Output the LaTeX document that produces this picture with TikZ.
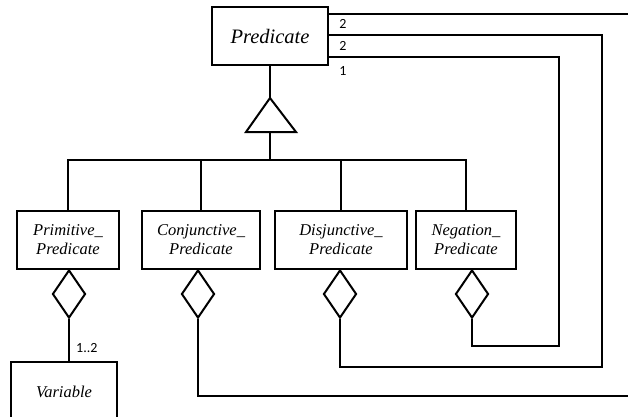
\documentclass[tikz,border=0pt]{standalone}
\usepackage{fontspec}
\setmainfont{Liberation Serif}
\newfontfamily\lblfont{Carlito}
\usetikzlibrary{shapes.geometric,calc}

\tikzset{
  umlline/.style={line width=2pt, line join=miter},
  classbox/.style={draw, umlline, rectangle, inner sep=0pt, align=center,
    font=\itshape\fontsize{16.5}{19}\selectfont},
  aggr/.style={draw, umlline, diamond, inner sep=0pt, fill=white,
    minimum width=33pt, minimum height=48pt},
  mult/.style={font=\lblfont\fontsize{14}{16}\selectfont, inner sep=0pt}
}

\begin{document}
\begin{tikzpicture}[x=1pt, y=-1pt]
  \clip (0,0) rectangle (628,416);
  \fill[white] (0,0) rectangle (628,416);

  % classes
  \node[classbox, minimum width=116pt, minimum height=58pt,
        font=\itshape\fontsize{20.5}{24}\selectfont] (pred) at (270,36) {Predicate};
  \node[classbox, minimum width=102pt, minimum height=58pt] (prim) at (68,240) {Primitive\_\\Predicate};
  \node[classbox, minimum width=118pt, minimum height=58pt] (conj) at (201,240) {Conjunctive\_\\Predicate};
  \node[classbox, minimum width=132pt, minimum height=58pt] (disj) at (341,240) {Disjunctive\_\\Predicate};
  \node[classbox, minimum width=100pt, minimum height=58pt] (neg) at (466,240) {Negation\_\\Predicate};
  \node[classbox, minimum width=106pt, minimum height=60pt, anchor=north] (var) at (64,361) {Variable};

  % generalisation triangle and the bar joining the subclasses
  \coordinate (triTop) at (270,98);
  \coordinate (triL) at (246,132);
  \coordinate (triR) at (296,132);
  \coordinate (triBase) at (270,132);
  \coordinate (bar) at (270,160);
  \draw[umlline] (pred.south) -- (triTop);
  \draw[umlline] (triTop) -- (triR) -- (triL) -- cycle;
  \draw[umlline] (triBase) -- (bar);
  \draw[umlline] (prim.north) -- (prim.north |- bar) -- (neg.north |- bar) -- (neg.north);
  \draw[umlline] (conj.north) -- (conj.north |- bar);
  \draw[umlline] (disj.north) -- (disj.north |- bar);

  % aggregation diamonds
  \node[aggr, anchor=north] (dPrim) at (69,269) {};
  \node[aggr, anchor=north] (dConj) at (198,269) {};
  \node[aggr, anchor=north] (dDisj) at (340,269) {};
  \node[aggr, anchor=north] (dNeg) at (472,269) {};

  % Primitive_Predicate -> Variable
  \draw[umlline] (dPrim.south) -- (dPrim.south |- var.north);
  \node[mult, anchor=west] (mVar) at (76,348) {1..2};

  % ends on the Predicate side
  \coordinate (pA) at (328,14);
  \coordinate (pB) at (328,35);
  \coordinate (pC) at (328,57);
  \coordinate (farTop) at (640,14);
  \coordinate (farBottom) at (640,396);

  % Conjunctive_Predicate -> Predicate (leaves at the right edge)
  \draw[umlline] (pA) -- (farTop);
  \draw[umlline] (dConj.south) |- (farBottom);
  % Disjunctive_Predicate -> Predicate
  \draw[umlline] (dDisj.south) |- (602,367) |- (pB);
  % Negation_Predicate -> Predicate
  \draw[umlline] (dNeg.south) |- (559,346) |- (pC);

  % multiplicities
  \node[mult] (m1) at (343,24) {2};
  \node[mult] (m2) at (343,46) {2};
  \node[mult] (m3) at (343,71) {1};
\end{tikzpicture}
\end{document}
